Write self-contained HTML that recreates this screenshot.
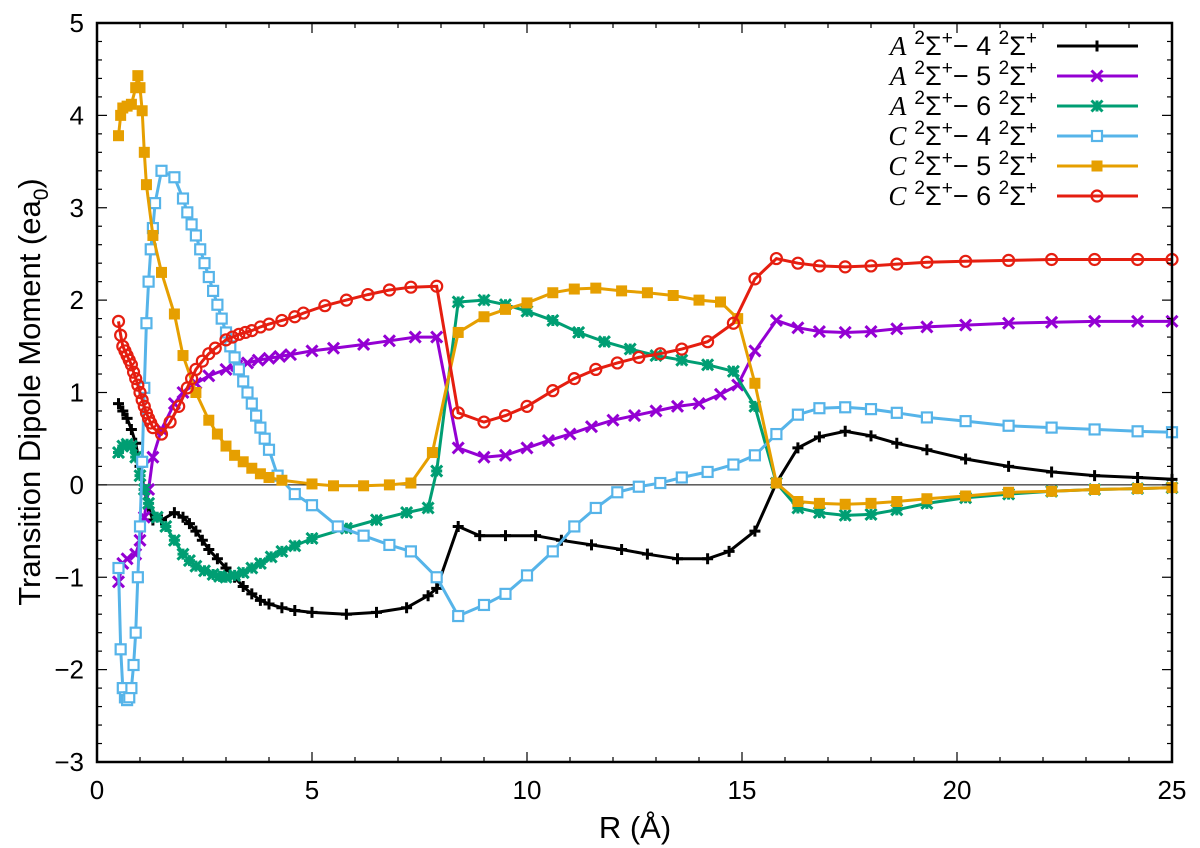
<!DOCTYPE html>
<html><head><meta charset="utf-8">
<style>
body{margin:0;background:#fff;}
svg{display:block;font-family:"Liberation Sans",sans-serif;}
</style></head>
<body>
<svg id="chart" width="1200" height="848"></svg>
<script>
const xTicks=[0,5,10,15,20,25];
const yTicks=[-3,-2,-1,0,1,2,3,4,5];
const seriesNames=["A-4","A-5","A-6","C-4","C-5","C-6"];
const xA4=[0.5,0.6,0.7,0.8,0.9,1.0,1.1,1.2,1.3,1.5,1.8,2.0,2.15,2.3,2.45,2.6,2.8,3.0,3.2,3.4,3.6,3.8,4.0,4.3,4.6,5.0,5.8,6.5,7.2,7.7,7.9,8.4,8.9,9.5,10.2,10.8,11.5,12.2,12.8,13.5,14.2,14.7,15.3,15.8,16.3,16.8,17.4,18.0,18.6,19.3,20.2,21.2,22.2,23.2,24.2,25];
const yA4=[0.88,0.8,0.72,0.6,0.45,0.2,-0.05,-0.25,-0.38,-0.38,-0.3,-0.35,-0.42,-0.5,-0.6,-0.7,-0.8,-0.9,-1.0,-1.1,-1.18,-1.25,-1.29,-1.33,-1.36,-1.38,-1.4,-1.38,-1.33,-1.2,-1.12,-0.45,-0.55,-0.55,-0.55,-0.6,-0.65,-0.7,-0.75,-0.8,-0.8,-0.72,-0.5,0.02,0.4,0.52,0.58,0.53,0.45,0.38,0.28,0.2,0.14,0.1,0.08,0.06];
const xA5=[0.5,0.6,0.7,0.9,1.0,1.1,1.2,1.3,1.5,1.8,2.0,2.3,2.6,3.0,3.25,3.5,3.75,4.0,4.25,4.5,5.0,5.5,6.2,6.8,7.4,7.9,8.4,9.0,9.5,10.0,10.5,11.0,11.5,12.0,12.5,13.0,13.5,14.0,14.5,14.9,15.3,15.8,16.3,16.8,17.4,18.0,18.6,19.3,20.2,21.2,22.2,23.2,24.2,25];
const yA5=[-1.05,-0.85,-0.8,-0.75,-0.6,-0.35,-0.05,0.3,0.6,0.88,1.0,1.1,1.18,1.25,1.29,1.32,1.35,1.37,1.39,1.41,1.45,1.48,1.52,1.56,1.6,1.6,0.4,0.3,0.32,0.4,0.48,0.55,0.63,0.7,0.75,0.8,0.85,0.88,0.98,1.08,1.45,1.78,1.7,1.66,1.65,1.66,1.69,1.71,1.73,1.75,1.76,1.77,1.77,1.77];
const xA6=[0.5,0.6,0.7,0.8,0.9,1.0,1.1,1.2,1.4,1.6,1.8,2.0,2.15,2.3,2.5,2.7,2.85,3.0,3.2,3.4,3.6,3.8,4.05,4.3,4.6,5.0,5.8,6.5,7.2,7.7,7.9,8.4,9.0,9.5,10.0,10.6,11.2,11.8,12.4,13.0,13.6,14.2,14.8,15.3,15.8,16.3,16.8,17.4,18.0,18.6,19.3,20.2,21.2,22.2,23.2,24.2,25];
const yA6=[0.35,0.42,0.44,0.42,0.3,0.1,-0.05,-0.2,-0.35,-0.45,-0.6,-0.75,-0.82,-0.88,-0.93,-0.97,-0.99,-1.0,-0.98,-0.95,-0.9,-0.85,-0.78,-0.72,-0.66,-0.58,-0.47,-0.38,-0.3,-0.25,0.15,1.98,2.0,1.95,1.88,1.78,1.65,1.55,1.47,1.4,1.35,1.3,1.23,0.85,0.02,-0.25,-0.3,-0.33,-0.32,-0.27,-0.2,-0.14,-0.1,-0.07,-0.05,-0.04,-0.03];
const xC4=[0.5,0.55,0.6,0.65,0.7,0.75,0.8,0.85,0.9,0.95,1.0,1.05,1.1,1.15,1.2,1.25,1.3,1.35,1.5,1.8,2.0,2.1,2.2,2.3,2.4,2.5,2.6,2.7,2.8,2.9,3.0,3.1,3.2,3.3,3.4,3.5,3.6,3.7,3.8,3.9,4.0,4.2,4.6,5.0,5.6,6.2,6.8,7.3,7.9,8.4,9.0,9.5,10.0,10.6,11.1,11.6,12.1,12.6,13.1,13.6,14.2,14.8,15.3,15.8,16.3,16.8,17.4,18.0,18.6,19.3,20.2,21.2,22.2,23.2,24.2,25];
const yC4=[-0.9,-1.78,-2.2,-2.3,-2.33,-2.3,-2.2,-1.95,-1.6,-1.0,-0.45,0.25,1.05,1.75,2.2,2.55,2.78,3.05,3.4,3.33,3.1,2.95,2.82,2.7,2.55,2.4,2.25,2.1,1.95,1.8,1.65,1.5,1.38,1.25,1.12,1.0,0.88,0.75,0.62,0.5,0.38,0.1,-0.1,-0.22,-0.45,-0.55,-0.65,-0.72,-1.0,-1.42,-1.3,-1.18,-0.98,-0.72,-0.45,-0.25,-0.08,-0.02,0.02,0.08,0.14,0.22,0.32,0.55,0.76,0.83,0.84,0.82,0.78,0.73,0.69,0.64,0.62,0.6,0.58,0.57];
const xC5=[0.5,0.55,0.6,0.7,0.8,0.9,0.95,1.0,1.05,1.1,1.15,1.3,1.5,1.8,2.0,2.3,2.6,2.8,3.0,3.2,3.4,3.6,3.8,4.0,4.3,5.0,5.5,6.2,6.8,7.3,7.8,8.4,9.0,9.5,10.0,10.6,11.1,11.6,12.2,12.8,13.4,14.0,14.5,14.9,15.3,15.8,16.3,16.8,17.4,18.0,18.6,19.3,20.2,21.2,22.2,23.2,24.2,25];
const yC5=[3.78,4.0,4.08,4.1,4.12,4.3,4.43,4.3,4.05,3.6,3.25,2.7,2.3,1.85,1.4,1.0,0.7,0.55,0.42,0.32,0.25,0.18,0.12,0.08,0.05,0.01,-0.01,-0.01,0,0.02,0.35,1.65,1.82,1.9,1.97,2.08,2.12,2.13,2.1,2.08,2.05,2.0,1.98,1.8,1.1,0.02,-0.18,-0.2,-0.21,-0.2,-0.18,-0.15,-0.12,-0.08,-0.07,-0.05,-0.04,-0.03];
const xC6=[0.5,0.55,0.6,0.65,0.7,0.75,0.8,0.85,0.9,0.95,1.0,1.05,1.1,1.15,1.2,1.25,1.3,1.5,1.7,1.9,2.1,2.2,2.3,2.45,2.6,2.75,3.0,3.15,3.3,3.45,3.6,3.8,4.0,4.3,4.6,4.8,5.3,5.8,6.3,6.8,7.3,7.9,8.4,9.0,9.5,10.0,10.6,11.1,11.6,12.1,12.6,13.1,13.6,14.2,14.8,15.3,15.8,16.3,16.8,17.4,18.0,18.6,19.3,20.2,21.2,22.2,23.2,24.2,25];
const yC6=[1.77,1.62,1.5,1.45,1.4,1.35,1.3,1.22,1.15,1.08,1.0,0.92,0.85,0.78,0.72,0.67,0.62,0.55,0.68,0.85,1.05,1.15,1.25,1.34,1.42,1.48,1.57,1.6,1.63,1.65,1.67,1.71,1.74,1.78,1.82,1.86,1.94,2.0,2.06,2.11,2.14,2.15,0.78,0.68,0.75,0.85,1.02,1.15,1.25,1.32,1.38,1.42,1.47,1.55,1.75,2.23,2.45,2.4,2.37,2.36,2.37,2.39,2.41,2.42,2.43,2.44,2.44,2.44,2.44];

const L=97,R=1172,T=23,B=762;
const xMin=0,xMax=25,yMin=-3,yMax=5;
function sx(v){return L+(v-xMin)/(xMax-xMin)*(R-L);}
function sy(v){return B-(v-yMin)/(yMax-yMin)*(B-T);}
const NS="http://www.w3.org/2000/svg";
const svg=document.getElementById('chart');
function mk(tag,attrs,parent){const e=document.createElementNS(NS,tag);for(const k in attrs)e.setAttribute(k,attrs[k]);(parent||svg).appendChild(e);return e;}

const z=mk('line',{x1:L,x2:R,y1:sy(0),y2:sy(0),stroke:'#000','stroke-width':1});



const series=[
 {n:"A-4",xs:xA4,ys:yA4,c:"#000000",m:"plus"},
 {n:"A-5",xs:xA5,ys:yA5,c:"#9400d3",m:"x"},
 {n:"A-6",xs:xA6,ys:yA6,c:"#009e73",m:"star"},
 {n:"C-4",xs:xC4,ys:yC4,c:"#56b4e9",m:"box"},
 {n:"C-5",xs:xC5,ys:yC5,c:"#e69f00",m:"fbox"},
 {n:"C-6",xs:xC6,ys:yC6,c:"#e51e10",m:"circle"}
];
function marker(g,type,x,y,c){
 const s=5.5;let e;
 if(type==="plus"){e=mk('path',{d:`M${x-s} ${y}H${x+s}M${x} ${y-s}V${y+s}`,stroke:c,'stroke-width':3,fill:'none'},g);}
 else if(type==="x"){e=mk('path',{d:`M${x-s} ${y-s}L${x+s} ${y+s}M${x-s} ${y+s}L${x+s} ${y-s}`,stroke:c,'stroke-width':3,fill:'none'},g);}
 else if(type==="star"){e=mk('path',{d:`M${x-s} ${y-s}L${x+s} ${y+s}M${x-s} ${y+s}L${x+s} ${y-s}M${x-s} ${y}H${x+s}M${x} ${y-s}V${y+s}`,stroke:c,'stroke-width':3,fill:'none'},g);}
 else if(type==="box"){e=mk('rect',{x:x-5,y:y-5,width:10,height:10,stroke:c,'stroke-width':2.2,fill:'#fff'},g);}
 else if(type==="fbox"){e=mk('rect',{x:x-5.5,y:y-5.5,width:11,height:11,fill:c},g);}
 else {e=mk('circle',{cx:x,cy:y,r:5.5,stroke:c,'stroke-width':2.2,fill:'none'},g);}
 
 
}
series.forEach((s,i)=>{
 const g=mk('g',{});
 
 
 const d=s.xs.map((x,j)=>(j?'L':'M')+sx(x).toFixed(1)+' '+sy(s.ys[j]).toFixed(1)).join('');
 const p=mk('path',{d:d,stroke:s.c,'stroke-width':3,fill:'none'},g);
 
 
 s.xs.forEach((x,j)=>marker(g,s.m,sx(x),sy(s.ys[j]),s.c));
 const ly=46+i*30;
 const lg=mk('g',{});
 
 
 const parts=s.n.split('-');
 const t=mk('text',{x:1037,y:ly+9,'text-anchor':'end','font-size':27,fill:'#000'},lg);
 t.innerHTML=`<tspan font-family="Liberation Serif" font-style="italic">${parts[0]}</tspan><tspan dx="8" dy="-11" font-size="19">2</tspan><tspan dy="11">Σ</tspan><tspan dy="-11" font-size="19">+</tspan><tspan dy="11">− ${parts[1]} </tspan><tspan dy="-11" font-size="19">2</tspan><tspan dy="11">Σ</tspan><tspan dy="-11" font-size="19">+</tspan>`;
 mk('line',{x1:1057,x2:1138,y1:ly,y2:ly,stroke:s.c,'stroke-width':3},lg);
 marker(lg,s.m,1097,ly,s.c);
});

const fr=mk('rect',{x:L,y:T,width:R-L,height:B-T,fill:'none',stroke:'#000','stroke-width':2.5});


for(let v=0;v<=25;v+=1){const X=sx(v);const len=(v%5===0)?10:5;
 mk('line',{x1:X,x2:X,y1:B,y2:B-len,stroke:'#000','stroke-width':1.2});
 mk('line',{x1:X,x2:X,y1:T,y2:T+len,stroke:'#000','stroke-width':1.2});}
for(let k=0;k<=40;k++){const v=-3+k*0.2;const Y=sy(v);const len=(k%5===0)?10:5;
 mk('line',{x1:L,x2:L+len,y1:Y,y2:Y,stroke:'#000','stroke-width':1.2});
 mk('line',{x1:R,x2:R-len,y1:Y,y2:Y,stroke:'#000','stroke-width':1.2});}
xTicks.forEach(v=>{const t=mk('text',{x:sx(v),y:799,'text-anchor':'middle','font-size':26});t.textContent=v;
 
 });
yTicks.forEach(v=>{const t=mk('text',{x:84,y:sy(v)+9,'text-anchor':'end','font-size':26});t.textContent=v<0?'−'+(-v):v;
 
 });
const xt=mk('text',{x:635,y:838,'text-anchor':'middle','font-size':31});xt.textContent='R (Å)';


const yt=mk('text',{x:0,y:0,'text-anchor':'middle','font-size':31,transform:'translate(40,392) rotate(-90)'});
yt.innerHTML='Transition Dipole Moment (ea<tspan font-size="21" dy="8">0</tspan><tspan dy="-8">)</tspan>';


</script>
</body></html>
